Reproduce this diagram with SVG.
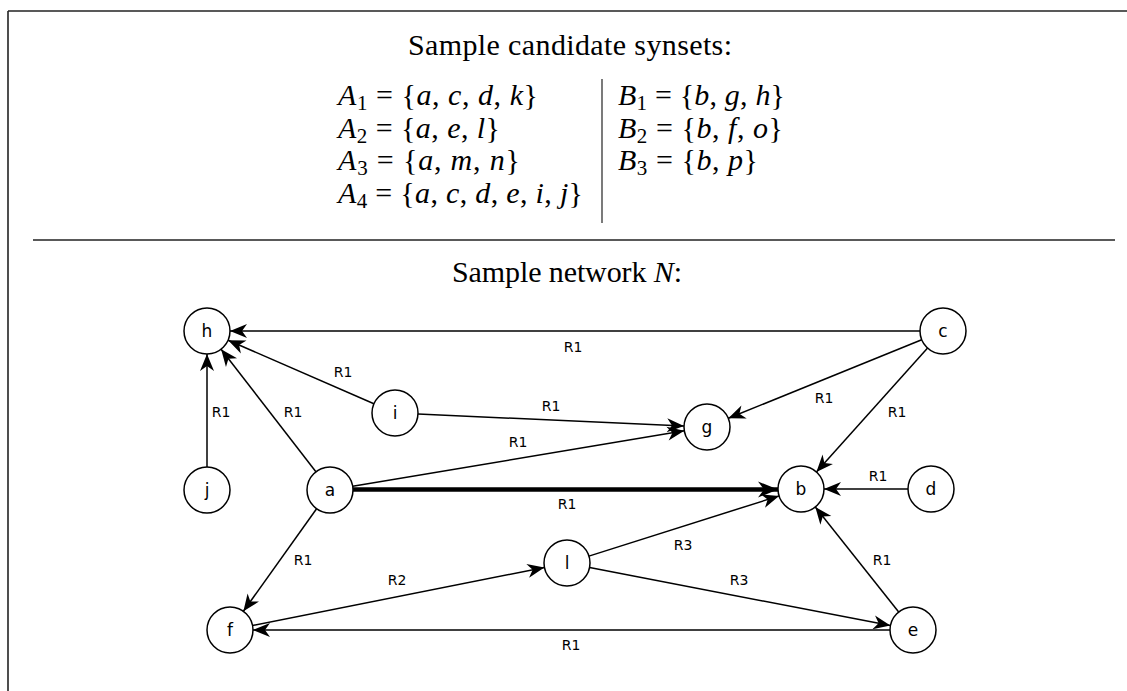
<svg xmlns="http://www.w3.org/2000/svg" width="1127" height="691" viewBox="0 0 1127 691">
<defs>
<style>
.frame{stroke:#222;stroke-width:1.6;fill:none}
.ttl{font-family:"Liberation Serif","DejaVu Serif",serif;font-size:30px;fill:#000}
.m{font-family:"Liberation Serif","DejaVu Serif",serif;font-size:30px;fill:#000}
.it{font-style:italic}
.sub{font-size:21px}
.node circle{fill:#fff;stroke:#000;stroke-width:1.5}
.node text{font-family:"DejaVu Sans",sans-serif;font-size:17px;text-anchor:middle;fill:#000}
.edge{stroke:#000;stroke-width:1.5;fill:none;marker-end:url(#arr)}
.thick{stroke:#000;stroke-width:4.5;fill:none;marker-end:url(#arrB)}
.lbl{font-family:"DejaVu Sans",sans-serif;font-size:14px;text-anchor:middle;fill:#000}
</style>
<marker id="arr" viewBox="-18 -8 19 16" refX="0" refY="0" markerWidth="19" markerHeight="16" markerUnits="userSpaceOnUse" orient="auto">
<path d="M0,0 L-17,-7 L-12,0 L-17,7 Z" fill="#000"/>
</marker>
<marker id="arrB" viewBox="-21 -9 22 18" refX="0" refY="0" markerWidth="22" markerHeight="18" markerUnits="userSpaceOnUse" orient="auto">
<path d="M0,0 L-20,-8 L-14,0 L-20,8 Z" fill="#000"/>
</marker>
</defs>
<rect width="1127" height="691" fill="#fff"/>
<g id="frame">
<line class="frame" x1="8" y1="11" x2="1127" y2="11"/>
<line class="frame" x1="8" y1="11" x2="8" y2="691"/>
<line class="frame" x1="33" y1="240" x2="1115" y2="240"/>
<line stroke="#222" stroke-width="1.2" x1="602" y1="79" x2="602" y2="223"/>
</g>
<g id="synsets">
<text class="ttl" x="408" y="55" textLength="324" lengthAdjust="spacing">Sample candidate synsets:</text>
<text class="m" x="338" y="105" textLength="200" lengthAdjust="spacing"><tspan class="it">A</tspan><tspan class="sub" dy="4.5">1</tspan><tspan dy="-4.5"> = {</tspan><tspan class="it">a</tspan>, <tspan class="it">c</tspan>, <tspan class="it">d</tspan>, <tspan class="it">k</tspan>}</text>
<text class="m" x="338" y="138" textLength="162" lengthAdjust="spacing"><tspan class="it">A</tspan><tspan class="sub" dy="4.5">2</tspan><tspan dy="-4.5"> = {</tspan><tspan class="it">a</tspan>, <tspan class="it">e</tspan>, <tspan class="it">l</tspan>}</text>
<text class="m" x="338" y="170" textLength="182" lengthAdjust="spacing"><tspan class="it">A</tspan><tspan class="sub" dy="4.5">3</tspan><tspan dy="-4.5"> = {</tspan><tspan class="it">a</tspan>, <tspan class="it">m</tspan>, <tspan class="it">n</tspan>}</text>
<text class="m" x="338" y="203" textLength="245" lengthAdjust="spacing"><tspan class="it">A</tspan><tspan class="sub" dy="4.5">4</tspan><tspan dy="-4.5"> = {</tspan><tspan class="it">a</tspan>, <tspan class="it">c</tspan>, <tspan class="it">d</tspan>, <tspan class="it">e</tspan>, <tspan class="it">i</tspan>, <tspan class="it">j</tspan>}</text>
<text class="m" x="618" y="105" textLength="167" lengthAdjust="spacing"><tspan class="it">B</tspan><tspan class="sub" dy="4.5">1</tspan><tspan dy="-4.5"> = {</tspan><tspan class="it">b</tspan>, <tspan class="it">g</tspan>, <tspan class="it">h</tspan>}</text>
<text class="m" x="618" y="138" textLength="165" lengthAdjust="spacing"><tspan class="it">B</tspan><tspan class="sub" dy="4.5">2</tspan><tspan dy="-4.5"> = {</tspan><tspan class="it">b</tspan>, <tspan class="it">f</tspan>, <tspan class="it">o</tspan>}</text>
<text class="m" x="618" y="170" textLength="140" lengthAdjust="spacing"><tspan class="it">B</tspan><tspan class="sub" dy="4.5">3</tspan><tspan dy="-4.5"> = {</tspan><tspan class="it">b</tspan>, <tspan class="it">p</tspan>}</text>
<text class="ttl" x="452" y="282" textLength="230" lengthAdjust="spacing">Sample network <tspan class="it">N</tspan>:</text>
</g>
<g id="connectors">
<line class="edge" x1="920" y1="331" x2="230" y2="331"/>
<line class="edge" x1="373.9" y1="403.8" x2="228.1" y2="340.2"/>
<line class="edge" x1="207" y1="467" x2="207" y2="354"/>
<line class="edge" x1="315.9" y1="471.8" x2="221.1" y2="349.2"/>
<line class="edge" x1="418" y1="414" x2="684" y2="426"/>
<line class="edge" x1="352.7" y1="486.2" x2="684.3" y2="430.8"/>
<line class="edge" x1="921.7" y1="339.7" x2="728.3" y2="418.3"/>
<line class="edge" x1="927.6" y1="348.1" x2="816.4" y2="471.9"/>
<line class="thick" x1="353" y1="489.5" x2="778" y2="489.5"/>
<line class="edge" x1="908" y1="489" x2="824" y2="489"/>
<line class="edge" x1="316.6" y1="508.7" x2="243.4" y2="611.3"/>
<line class="edge" x1="252.6" y1="625.5" x2="544.4" y2="567.5"/>
<line class="edge" x1="588.9" y1="556.1" x2="779.1" y2="495.9"/>
<line class="edge" x1="589.6" y1="567.4" x2="890.4" y2="625.6"/>
<line class="edge" x1="898.7" y1="612" x2="815.3" y2="507"/>
<line class="edge" x1="890" y1="630" x2="253" y2="630"/>
<text class="lbl" x="573" y="352">R1</text>
<text class="lbl" x="343" y="377">R1</text>
<text class="lbl" x="221" y="417">R1</text>
<text class="lbl" x="293" y="417">R1</text>
<text class="lbl" x="551" y="411">R1</text>
<text class="lbl" x="518" y="447">R1</text>
<text class="lbl" x="824" y="403">R1</text>
<text class="lbl" x="897" y="417">R1</text>
<text class="lbl" x="567" y="509">R1</text>
<text class="lbl" x="878" y="481">R1</text>
<text class="lbl" x="303" y="565">R1</text>
<text class="lbl" x="397" y="585">R2</text>
<text class="lbl" x="683" y="550">R3</text>
<text class="lbl" x="739" y="585">R3</text>
<text class="lbl" x="882" y="565">R1</text>
<text class="lbl" x="571" y="650">R1</text>
</g>
<g id="node-h" class="node"><circle cx="207" cy="331" r="23"/><text x="207" y="337">h</text></g>
<g id="node-i" class="node"><circle cx="395" cy="413" r="23"/><text x="395" y="419">i</text></g>
<g id="node-j" class="node"><circle cx="207" cy="490" r="23"/><text x="207" y="496">j</text></g>
<g id="node-a" class="node"><circle cx="330" cy="490" r="23"/><text x="330" y="496">a</text></g>
<g id="node-g" class="node"><circle cx="707" cy="427" r="23"/><text x="707" y="433">g</text></g>
<g id="node-c" class="node"><circle cx="943" cy="331" r="23"/><text x="943" y="337">c</text></g>
<g id="node-b" class="node"><circle cx="801" cy="489" r="23"/><text x="801" y="495">b</text></g>
<g id="node-d" class="node"><circle cx="931" cy="489" r="23"/><text x="931" y="495">d</text></g>
<g id="node-l" class="node"><circle cx="567" cy="563" r="23"/><text x="567" y="569">l</text></g>
<g id="node-f" class="node"><circle cx="230" cy="630" r="23"/><text x="230" y="636">f</text></g>
<g id="node-e" class="node"><circle cx="913" cy="630" r="23"/><text x="913" y="636">e</text></g>
</svg>
